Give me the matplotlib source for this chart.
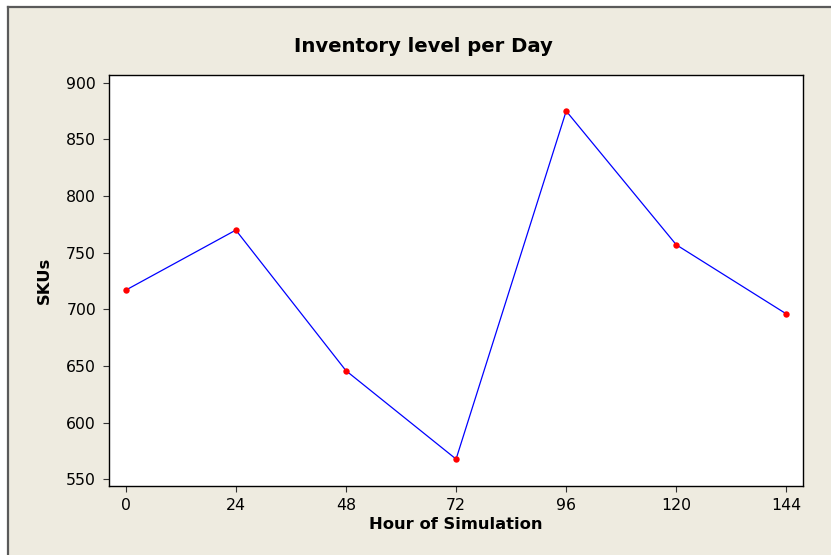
import matplotlib
matplotlib.use("Agg")
import matplotlib.pyplot as plt
from matplotlib.patches import Rectangle

# Inventory snapshot (SKUs on hand) at each simulation hour
hours = [0, 24, 48, 72, 96, 120, 144]
skus = [717, 770, 646, 568, 875, 757, 696]

x_ticks = [0, 24, 48, 72, 96, 120, 144]
y_ticks = [550, 600, 650, 700, 750, 800, 850, 900]

W, H = 831, 555
fig = plt.figure(figsize=(W / 100, H / 100), dpi=100)
fig.patch.set_facecolor("white")

# Beige panel with a grey frame on its left and top
panel = Rectangle((8 / W, -0.01), 1.02 - 8 / W, 1.01 - 7 / H,
                  transform=fig.transFigure, facecolor="#EEEBE0",
                  edgecolor="none", zorder=-5)
fig.add_artist(panel)
fig.add_artist(plt.Line2D([8 / W, 8 / W], [0, 1 - 7 / H], color="#5a5a5a",
                          lw=1.6, transform=fig.transFigure, zorder=-4))
fig.add_artist(plt.Line2D([8 / W, 1], [1 - 7 / H, 1 - 7 / H], color="#5a5a5a",
                          lw=1.6, transform=fig.transFigure, zorder=-4))

ax = fig.add_axes([108.5 / W, 69.5 / H, 694 / W, 410.5 / H])
ax.set_zorder(2)
ax.set_facecolor("white")

ax.plot(hours, skus, color="#0000FF", lw=0.9, zorder=2)
ax.plot(hours, skus, linestyle="none", marker="o", markersize=4.6,
        color="#FF0000", markeredgewidth=0, zorder=3)

ax.set_xlim(-3.75, 147.5)
ax.set_ylim(544.7, 906.8)
ax.set_xticks(x_ticks)
ax.set_yticks(y_ticks)

for s in ax.spines.values():
    s.set_color("black")
    s.set_linewidth(1.0)

ax.tick_params(axis="both", direction="out", length=4, width=0.8,
               color="#333333", labelsize=11.3, labelcolor="#000000")
ax.tick_params(axis="y", pad=5)
ax.tick_params(axis="x", pad=5)
ax.tick_params(top=False, right=False)

ax.set_xlabel("Hour of Simulation", fontsize=11.8, fontweight="bold",
              labelpad=3)
ax.set_ylabel("SKUs", fontsize=11.8, fontweight="bold", labelpad=10)

fig.text(423 / W, 1 - 46 / H, "Inventory level per Day", ha="center",
         va="center", fontsize=14.1, fontweight="bold", zorder=3)

fig.savefig("out.png", dpi=100, facecolor=fig.get_facecolor())
